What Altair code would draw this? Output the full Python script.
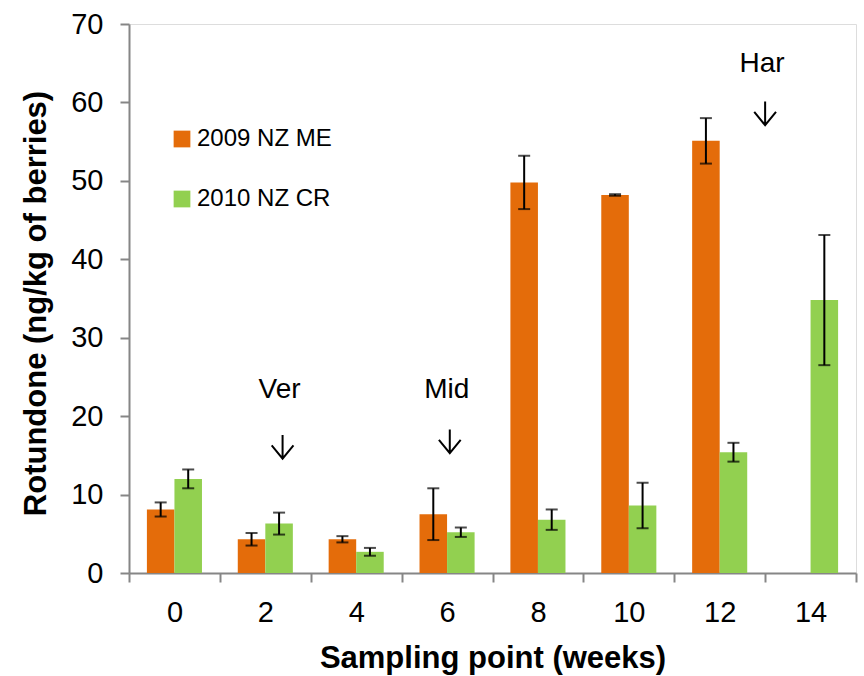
import altair as alt
import pandas as pd

# Sampling points (weeks) and the two vintages
weeks = ["0", "2", "4", "6", "8", "10", "12", "14"]
series = ["2009 NZ ME", "2010 NZ CR"]
colors = ["#E46C0A", "#92D050"]

# Mean rotundone (ng/kg of berries) and error (±) per sampling point
me_mean = [8.1, 4.3, 4.3, 7.5, 49.8, 48.2, 55.1, None]
me_err = [0.9, 0.8, 0.4, 3.3, 3.4, 0.1, 2.9, None]
cr_mean = [12.0, 6.3, 2.7, 5.2, 6.8, 8.6, 15.4, 34.8]
cr_err = [1.2, 1.4, 0.5, 0.6, 1.3, 2.9, 1.2, 8.3]

# Phenological stage markers: veraison, mid-ripening, harvest
ann_labels = ["Ver", "Mid", "Har"]
ann_weeks = ["2", "6", "12"]
ann_band = [0.69, 0.53, 1.0]
ann_text_y = [22.3, 22.3, 63.9]
ann_arrow_y = [16.1, 16.8, 58.6]

# Open-headed down arrow drawn as a symbol path (unit coordinates)
ARROW_PATH = "M0,-1L0,1M-0.92,-0.12L0,1L0.92,-0.12"

rows = []
for name, means, errs in [(series[0], me_mean, me_err), (series[1], cr_mean, cr_err)]:
    for w, m, e in zip(weeks, means, errs):
        if m is None:
            continue
        rows.append({"week": w, "series": name, "mean": m,
                     "lo": m - e, "hi": m + e})
df = pd.DataFrame(rows)

FONT = "Liberation Sans"
AXIS_GREY = "#868686"

x_axis = alt.Axis(
    title="Sampling point (weeks)", titleFont=FONT, titleFontSize=31,
    titleFontWeight="bold", titleColor="black", titleBaseline="alphabetic",
    titleY=94, labelFont=FONT, labelFontSize=29, labelColor="black",
    labelAngle=0, labelPadding=16, tickSize=9, tickWidth=2, tickColor=AXIS_GREY,
    domainColor=AXIS_GREY, domainWidth=2, tickBand="extent", grid=False,
)
y_axis = alt.Axis(
    title="Rotundone (ng/kg of berries)", titleFont=FONT, titleFontSize=31,
    titleFontWeight="bold", titleColor="black", titleAngle=-90,
    titleBaseline="middle", titleAlign="center", titleX=-93, titleY=279,
    labelFont=FONT, labelFontSize=29, labelColor="black", labelPadding=17,
    values=[0, 10, 20, 30, 40, 50, 60, 70], tickSize=9, tickWidth=2,
    tickColor=AXIS_GREY, domainColor=AXIS_GREY, domainWidth=2, grid=False,
)
x_scale = alt.Scale(paddingInner=0, paddingOuter=0)
y_scale = alt.Scale(domain=[0, 70], nice=False)


def x_enc(**kw):
    return alt.X("week:N", sort=weeks, scale=x_scale, axis=x_axis, **kw)


def y_enc(field):
    return alt.Y(field, type="quantitative", scale=y_scale, axis=y_axis)


x_off = alt.XOffset("series:N", sort=series,
                    scale=alt.Scale(paddingInner=0, paddingOuter=0.65))

base = alt.Chart(df)

bars = base.mark_bar().encode(
    x=x_enc(),
    xOffset=x_off,
    y=y_enc("mean"),
    color=alt.Color(
        "series:N", sort=series,
        scale=alt.Scale(domain=series, range=colors),
        legend=alt.Legend(
            title=None, orient="none", legendX=41, legendY=103,
            symbolType="square", symbolSize=280, symbolStrokeWidth=0,
            labelFont=FONT, labelFontSize=24, labelColor="black",
            labelOffset=3, rowPadding=36, padding=0,
        ),
    ),
)

err_rule = base.mark_rule(color="black", strokeWidth=2).encode(
    x=x_enc(), xOffset=x_off, y=y_enc("lo"), y2="hi:Q",
)
cap_lo = base.mark_tick(color="black", thickness=2, size=12).encode(
    x=x_enc(), xOffset=x_off, y=y_enc("lo"),
)
cap_hi = base.mark_tick(color="black", thickness=2, size=12).encode(
    x=x_enc(), xOffset=x_off, y=y_enc("hi"),
)

layers = [bars, err_rule, cap_lo, cap_hi]
for lab, wk, bp, ty, ay in zip(ann_labels, ann_weeks, ann_band, ann_text_y, ann_arrow_y):
    ann = pd.DataFrame({"week": [wk], "label": [lab], "ty": [ty], "ay": [ay]})
    layers.append(
        alt.Chart(ann).mark_text(font=FONT, fontSize=28, color="black",
                                 baseline="alphabetic", align="center", dx=-3)
        .encode(x=x_enc(bandPosition=bp), y=y_enc("ty"), text="label:N")
    )
    layers.append(
        alt.Chart(ann).mark_point(shape=ARROW_PATH, size=560, filled=False,
                                  color="black", strokeWidth=2, opacity=1)
        .encode(x=x_enc(bandPosition=bp), y=y_enc("ay"))
    )

chart = alt.layer(*layers).properties(
    width=727, height=549,
    autosize=alt.AutoSizeParams(type="none"),
    padding={"left": 129, "top": 24, "right": 8, "bottom": 103},
).configure_view(stroke=None).configure(background="white")

chart.save("out.html", embed_options={"renderer": "svg", "actions": False})
